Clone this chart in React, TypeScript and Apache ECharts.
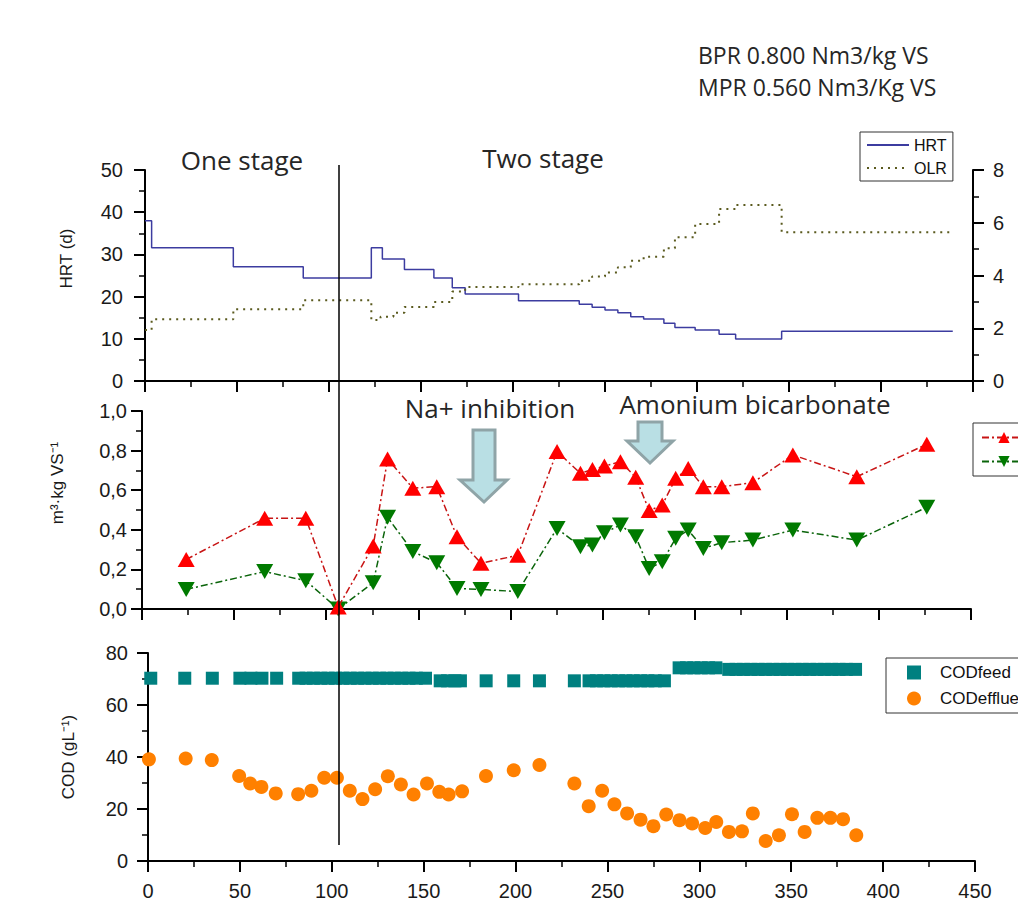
import React, { useEffect, useRef } from "react";
import * as echarts from "echarts";

// ---- Top panel: HRT (d) and OLR step series ----
const hrtDays = [0, 3.6, 48, 86, 123, 129, 141, 157, 167, 174, 203, 236, 243, 250, 257, 264, 271, 282, 288, 299, 312, 321, 346, 439];
const hrtValues = [38, 31.6, 27.1, 24.4, 31.6, 28.9, 26.4, 24.4, 22.1, 20.6, 19.0, 18.2, 17.5, 16.8, 16.2, 15.2, 14.7, 13.7, 12.7, 12.1, 11.1, 9.95, 11.8, 11.8];

const olrDays = [0, 3.6, 48, 86, 123, 128, 135, 141, 157, 167, 174, 203, 236, 243, 250, 257, 264, 271, 282, 288, 299, 312, 321, 346, 439];
const olrValues = [1.93, 2.34, 2.72, 3.06, 2.31, 2.44, 2.59, 2.81, 3.0, 3.39, 3.56, 3.67, 3.8, 3.96, 4.11, 4.31, 4.56, 4.71, 5.03, 5.45, 5.95, 6.52, 6.67, 5.64, 5.64];

// ---- Middle panel: BPR / MPR (m3 kg VS-1) ----
const gasDays = [24, 66.6, 88.9, 106.5, 125.5, 133.3, 147, 160, 171, 184, 204, 225.3, 238, 244.5, 251, 259.7, 268, 275.3, 282.4, 289.7, 296.5, 304.7, 314.7, 331.6, 353.3, 388, 426];
const bprValues = [0.25, 0.458, 0.458, 0.01, 0.318, 0.758, 0.61, 0.618, 0.365, 0.231, 0.271, 0.795, 0.685, 0.705, 0.722, 0.744, 0.665, 0.497, 0.525, 0.66, 0.71, 0.618, 0.618, 0.638, 0.778, 0.668, 0.832];
const mprValues = [0.099, 0.189, 0.143, 0.0, 0.133, 0.463, 0.29, 0.234, 0.104, 0.099, 0.088, 0.407, 0.315, 0.323, 0.385, 0.424, 0.365, 0.205, 0.239, 0.357, 0.399, 0.306, 0.335, 0.348, 0.399, 0.348, 0.514];

// ---- Bottom panel: COD (g L-1) ----
const codFeedDays = [1.5, 20, 35, 50, 56, 62, 70, 82, 86, 90, 94, 98, 102, 106, 110, 114, 118, 122, 126, 130, 134, 138, 142, 146, 151,
  159, 163, 167, 170, 184, 199, 213, 232, 240, 244, 248, 252, 256, 260, 264, 268, 272, 276, 281,
  289, 293, 297, 301, 305, 309,
  316, 320, 324, 328, 332, 336, 340, 344, 348, 352, 356, 360, 364, 368, 372, 376, 380, 385];
const codFeedValues = [70.3, 70.3, 70.3, 70.3, 70.3, 70.3, 70.3, 70.3, 70.3, 70.3, 70.3, 70.3, 70.3, 70.3, 70.3, 70.3, 70.3, 70.3, 70.3, 70.3, 70.3, 70.3, 70.3, 70.3, 70.3,
  69.3, 69.3, 69.3, 69.3, 69.3, 69.3, 69.3, 69.3, 69.3, 69.3, 69.3, 69.3, 69.3, 69.3, 69.3, 69.3, 69.3, 69.3, 69.3,
  74.3, 74.3, 74.3, 74.3, 74.3, 74.3,
  73.7, 73.7, 73.7, 73.7, 73.7, 73.7, 73.7, 73.7, 73.7, 73.7, 73.7, 73.7, 73.7, 73.7, 73.7, 73.7, 73.7, 73.7];

const codEffDays = [0.5, 20.5, 34.7, 49.6, 55.6, 61.7, 69.5, 81.7, 88.9, 95.9, 102.8, 109.8, 116.7, 123.6, 130.5, 137.6, 144.5, 151.8, 158.5, 163.6,
  170.9, 183.9, 199, 213, 232, 239.8, 247.1, 253.8, 260.7, 268, 275, 282, 289.2, 296.1, 303.2, 309.2, 316.1, 323.2, 329.1, 336.1,
  343.3, 350.4, 357.3, 364.2, 371.3, 378.2, 385.4];
const codEffValues = [39.1, 39.4, 38.8, 32.7, 29.8, 28.5, 26.0, 25.7, 27.0, 32.0, 32.0, 27.0, 23.8, 27.6, 32.6, 29.4, 25.6, 29.8, 26.6, 25.6,
  26.8, 32.7, 34.9, 36.9, 29.8, 21.1, 27.0, 21.8, 18.3, 15.9, 13.4, 17.9, 15.7, 14.4, 12.7, 15.0, 11.2, 11.4, 18.3, 7.7,
  9.9, 18.0, 11.2, 16.6, 16.6, 16.1, 9.9];

const zip = (xs: number[], ys: number[]) => xs.map((x, i) => [x, ys[i]]);

const AX = "Liberation Sans, Arial, sans-serif";
const ANN = "Open Sans, sans-serif";

const axisLine = { show: true, lineStyle: { color: "#000", width: 2 } };
const axisTick = { show: true, length: 11, lineStyle: { color: "#000", width: 2 } };
const minorTick = { show: true, splitNumber: 2, length: 6, lineStyle: { color: "#000", width: 1.5 } };

function xAxisFor(gridIndex: number, showLabels: boolean) {
  return {
    type: "value",
    gridIndex,
    min: 0,
    max: 450,
    interval: 50,
    axisLine,
    axisTick,
    minorTick,
    splitLine: { show: false },
    axisLabel: { show: showLabels, fontSize: 20, fontFamily: AX, color: "#1a1a1a", margin: 20 },
  };
}

export default function App() {
  const ref = useRef<HTMLDivElement>(null);
  useEffect(() => {
    if (!ref.current) return;
    const chart = echarts.init(ref.current, null, { renderer: "svg" });
    const option = {
      animation: false,
      backgroundColor: "#fff",
      grid: [
        { left: 145, right: 45, top: 170, height: 211 },
        { left: 142, right: 47, top: 411, height: 198 },
        { left: 148, right: 43, top: 653, height: 208 },
      ],
      xAxis: [xAxisFor(0, false), xAxisFor(1, false), xAxisFor(2, true)],
      yAxis: [
        {
          type: "value", gridIndex: 0, min: 0, max: 50, interval: 10,
          axisLine, axisTick, minorTick, splitLine: { show: false },
          axisLabel: { fontSize: 20, fontFamily: AX, color: "#1a1a1a", margin: 22 },
          name: "HRT (d)", nameLocation: "middle", nameGap: 70,
          nameTextStyle: { fontSize: 17, fontFamily: AX, color: "#1a1a1a", padding: [0, 0, 0, 34] },
        },
        {
          type: "value", gridIndex: 0, position: "right", min: 0, max: 8, interval: 2,
          axisLine, axisTick, minorTick, splitLine: { show: false },
          axisLabel: { fontSize: 20, fontFamily: AX, color: "#1a1a1a", margin: 20 },
        },
        {
          type: "value", gridIndex: 1, min: 0, max: 1, interval: 0.2,
          axisLine, axisTick, minorTick, splitLine: { show: false },
          axisLabel: { fontSize: 20, fontFamily: AX, color: "#1a1a1a", margin: 15, formatter: (v: number) => v.toFixed(1).replace(".", ",") },
          name: "m³·kg VS⁻¹", nameLocation: "middle", nameGap: 76,
          nameTextStyle: { fontSize: 17, fontFamily: AX, color: "#1a1a1a", padding: [0, 0, 0, 54] },
        },
        {
          type: "value", gridIndex: 2, min: 0, max: 80, interval: 20,
          axisLine, axisTick, minorTick, splitLine: { show: false },
          axisLabel: { fontSize: 20, fontFamily: AX, color: "#1a1a1a", margin: 20 },
          name: "COD (gL⁻¹)", nameLocation: "middle", nameGap: 71,
          nameTextStyle: { fontSize: 17, fontFamily: AX, color: "#1a1a1a" },
        },
      ],
      legend: [
        {
          data: ["HRT", "OLR"], orient: "vertical", left: 860, top: 132,
          itemWidth: 42, itemHeight: 10, itemGap: 7, padding: [5, 6, 5, 6],
          borderColor: "#333", borderWidth: 1, backgroundColor: "#fff",
          itemStyle: { opacity: 0 },
          textStyle: { fontSize: 16, fontFamily: AX, color: "#111" },
        },
        {
          data: ["BPR", "MPR"], orient: "vertical", left: 973, top: 423,
          itemWidth: 44, itemHeight: 14, itemGap: 9, padding: [7, 8, 7, 8],
          borderColor: "#333", borderWidth: 1, backgroundColor: "#fff",
          textStyle: { fontSize: 15, fontFamily: AX, color: "#111" },
        },
        {
          data: ["CODfeed", "CODeffluent"], orient: "vertical", left: 886, top: 658,
          itemWidth: 14, itemHeight: 14, itemGap: 9, padding: [6, 10, 6, 21],
          borderColor: "#333", borderWidth: 1, backgroundColor: "#fff",
          textStyle: { fontSize: 17, fontFamily: AX, color: "#111", padding: [0, 0, 0, 14] },
        },
      ],
      series: [
        {
          name: "HRT", type: "line", xAxisIndex: 0, yAxisIndex: 0, step: "end",
          data: zip(hrtDays, hrtValues), showSymbol: false, symbol: "none",
          lineStyle: { color: "#3c3ca0", width: 1.5 }, itemStyle: { color: "#3c3ca0" },
        },
        {
          name: "OLR", type: "line", xAxisIndex: 0, yAxisIndex: 1, step: "end",
          data: zip(olrDays, olrValues), showSymbol: false, symbol: "none",
          lineStyle: { color: "#5a5a1e", width: 2, type: [2, 5] }, itemStyle: { color: "#5a5a1e" },
        },
        {
          name: "BPR", type: "line", xAxisIndex: 1, yAxisIndex: 2,
          data: zip(gasDays, bprValues), symbol: "triangle", symbolSize: [17, 15],
          itemStyle: { color: "#ff0000", opacity: 1 },
          lineStyle: { color: "#c81414", width: 1.5, type: [7, 3, 2, 3] },
          z: 3,
        },
        {
          name: "MPR", type: "line", xAxisIndex: 1, yAxisIndex: 2,
          data: zip(gasDays, mprValues), symbol: "triangle", symbolRotate: 180, symbolSize: [17, 15],
          itemStyle: { color: "#007a00", opacity: 1 },
          lineStyle: { color: "#0a640a", width: 1.5, type: [7, 3, 2, 3] },
          z: 2,
        },
        {
          name: "CODfeed", type: "scatter", xAxisIndex: 2, yAxisIndex: 3,
          data: zip(codFeedDays, codFeedValues), symbol: "rect", symbolSize: 13,
          itemStyle: { color: "#008080", opacity: 1 },
        },
        {
          name: "CODeffluent", type: "scatter", xAxisIndex: 2, yAxisIndex: 3,
          data: zip(codEffDays, codEffValues), symbol: "circle", symbolSize: 14,
          itemStyle: { color: "#ff8000", opacity: 1 },
        },
      ],
      graphic: [
        { type: "line", shape: { x1: 339, y1: 165, x2: 339, y2: 845 }, style: { stroke: "#000", lineWidth: 1.5 }, z: 20 },
        { type: "text", x: 698, y: 55, style: { text: "BPR 0.800 Nm3/kg VS", font: `23px ${ANN}`, fill: "#262626", textAlign: "left", textVerticalAlign: "middle" } },
        { type: "text", x: 698, y: 87, style: { text: "MPR 0.560 Nm3/Kg VS", font: `23px ${ANN}`, fill: "#262626", textAlign: "left", textVerticalAlign: "middle" } },
        { type: "text", x: 242, y: 160, style: { text: "One stage", font: `26px ${ANN}`, fill: "#262626", textAlign: "center", textVerticalAlign: "middle" } },
        { type: "text", x: 543, y: 158, style: { text: "Two stage", font: `26px ${ANN}`, fill: "#262626", textAlign: "center", textVerticalAlign: "middle" } },
        { type: "text", x: 490, y: 408, style: { text: "Na+ inhibition", font: `26px ${ANN}`, fill: "#262626", textAlign: "center", textVerticalAlign: "middle" } },
        { type: "text", x: 755, y: 404, style: { text: "Amonium bicarbonate", font: `26px ${ANN}`, fill: "#262626", textAlign: "center", textVerticalAlign: "middle" } },
        {
          type: "polygon",
          shape: { points: [[473, 430], [495, 430], [495, 480], [507, 480], [484, 502], [460, 480], [473, 480]] },
          style: { fill: "#b9dfe4", stroke: "#8fa4a7", lineWidth: 3 }, z: 5,
        },
        {
          type: "polygon",
          shape: { points: [[638, 422], [662, 422], [662, 441], [673, 441], [650, 463], [627, 441], [638, 441]] },
          style: { fill: "#b9dfe4", stroke: "#8fa4a7", lineWidth: 3 }, z: 5,
        },
      ],
    };
    chart.setOption(option as any);
    return () => chart.dispose();
  }, []);
  return (
    <div
      ref={ref}
      style={{ position: "absolute", left: 0, top: 0, width: 1018, height: 901, overflow: "hidden", background: "#fff" }}
    />
  );
}
